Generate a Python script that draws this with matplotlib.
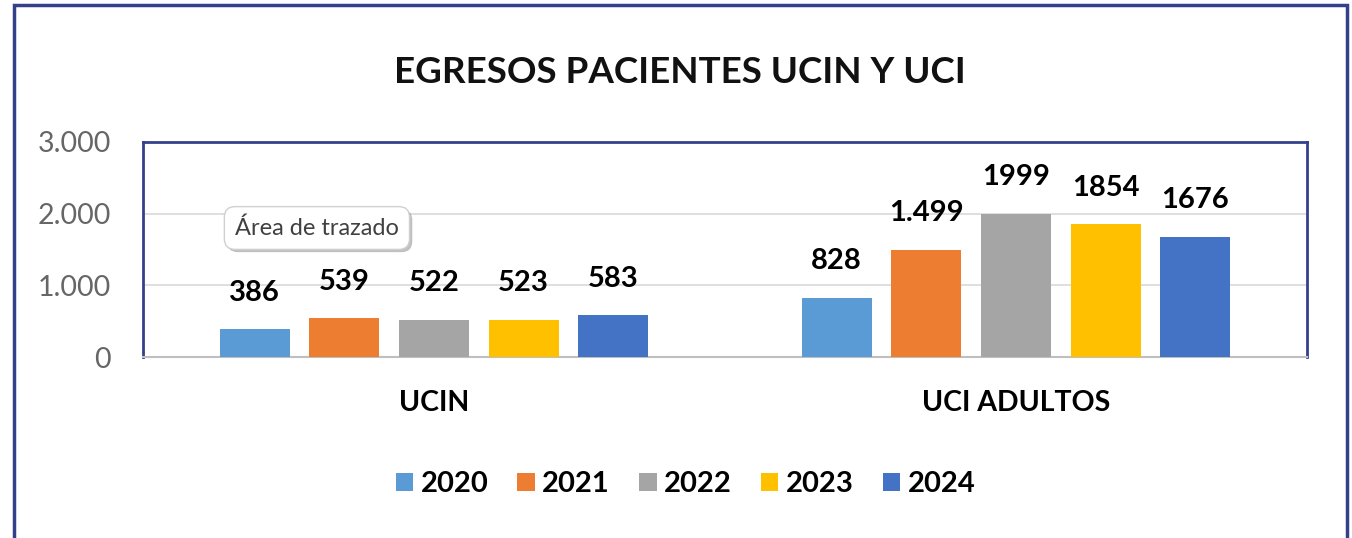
import numpy as np
import matplotlib.pyplot as plt
from matplotlib.patches import Rectangle
import matplotlib.patheffects as pe

plt.rcParams['font.family'] = ['Lato', 'DejaVu Sans']

# Datos
categorias = ["UCIN", "UCI ADULTOS"]
anios = ["2020", "2021", "2022", "2023", "2024"]
valores = {
    "2020": [386, 828],
    "2021": [539, 1499],
    "2022": [522, 1999],
    "2023": [523, 1854],
    "2024": [583, 1676],
}
etiquetas = {
    "2020": ["386", "828"],
    "2021": ["539", "1.499"],
    "2022": ["522", "1999"],
    "2023": ["523", "1854"],
    "2024": ["583", "1676"],
}
y_ticks = [0, 1000, 2000, 3000]
y_tick_labels = ["0", "1.000", "2.000", "3.000"]

colores = ["#5B9BD5", "#ED7D31", "#A5A5A5", "#FFC000", "#4472C4"]
azul_borde = "#34418a"

fig = plt.figure(figsize=(13.52, 5.38), dpi=100)
ax = fig.add_axes([0.1058, 0.3364, 0.8609, 0.3997])

x = np.arange(len(categorias))
paso = 0.154
ancho = 0.12
for i, anio in enumerate(anios):
    pos = x + (i - 2) * paso
    barras = ax.bar(pos, valores[anio], width=ancho, color=colores[i], label=anio, zorder=3)
    for b, txt in zip(barras, etiquetas[anio]):
        ax.annotate(txt, (b.get_x() + b.get_width() / 2, b.get_height()),
                    xytext=(0, 17), textcoords="offset points",
                    ha="center", va="bottom", fontsize=21, fontweight="bold", color="black")

ax.set_xlim(-0.5, 1.5)
ax.set_ylim(0, 3000)
ax.set_yticks(y_ticks)
ax.set_yticklabels(y_tick_labels, fontsize=20.5, color="#666666")
ax.set_xticks(x)
ax.set_xticklabels(categorias, fontsize=20.5, fontweight="bold", color="black")
ax.tick_params(axis="y", length=0, pad=23)
ax.tick_params(axis="x", length=0, pad=24)
ax.grid(axis="y", color="#d9d9d9", linewidth=1.2, zorder=0)

for lado in ["left", "top", "right"]:
    ax.spines[lado].set_color(azul_borde)
    ax.spines[lado].set_linewidth(2)
ax.spines["bottom"].set_color("#bfbfbf")
ax.spines["bottom"].set_linewidth(1.5)

fig.text(0.503, 0.866, "EGRESOS PACIENTES UCIN Y UCI", ha="center", va="center",
         fontsize=26.5, fontweight="bold", color="#111111")

# cuadro de ayuda "Área de trazado"
t = ax.text(0.079, 0.6, "Área de trazado", transform=ax.transAxes, fontsize=17,
            color="#404040", ha="left", va="center", zorder=6,
            bbox=dict(boxstyle="round,pad=0.45", fc="white", ec="#d0d0d0", lw=1))
t.get_bbox_patch().set_path_effects([pe.SimplePatchShadow(offset=(2, -2), alpha=0.35), pe.Normal()])

leg = fig.legend(loc="center", bbox_to_anchor=(0.507, 0.1), ncol=5, frameon=False,
                 handlelength=0.6, handleheight=0.6, handletextpad=0.25, columnspacing=1.0,
                 prop={"size": 21, "weight": "bold"})

# borde exterior
fig.patches.append(Rectangle((0.0105, -0.02), 0.9855, 1.01, transform=fig.transFigure,
                             fill=False, ec=azul_borde, lw=2.5))

fig.savefig("out.png", dpi=100)
